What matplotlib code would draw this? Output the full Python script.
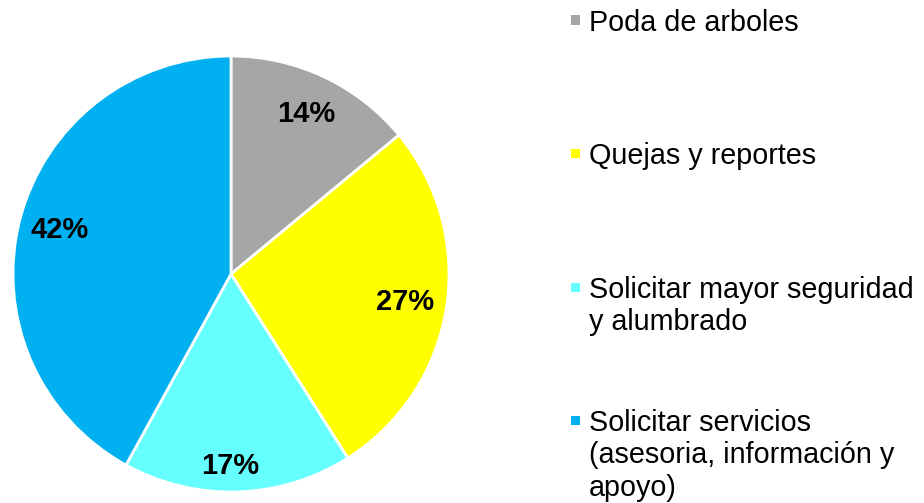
import numpy as np
import matplotlib
matplotlib.use("Agg")
import matplotlib.pyplot as plt
from matplotlib.patches import Rectangle

plt.rcParams['font.family'] = ['Liberation Sans', 'DejaVu Sans']

# data
categories = ['Poda de arboles', 'Quejas y reportes',
              'Solicitar mayor seguridad\ny alumbrado',
              'Solicitar servicios\n(asesoria, información y\napoyo)']
shares = [14, 27, 17, 42]
colors = ['#A6A6A6', '#FFFF00', '#66FFFF', '#00B0F0']

W, H = 924, 503
fig = plt.figure(figsize=(W / 100, H / 100), dpi=100)

# pie axes placed in pixel terms (centre ~ (231, 274), radius ~ 218)
cx, cy, r = 231, 274, 218
ax = fig.add_axes([(cx - r) / W, (H - cy - r) / H, 2 * r / W, 2 * r / H])
wedges, texts, autotexts = ax.pie(
    shares, colors=colors, startangle=90, counterclock=False,
    radius=1, autopct='%1.0f%%', pctdistance=0.81,
    wedgeprops=dict(edgecolor='white', linewidth=2),
    textprops=dict(fontsize=21, fontweight='bold', color='black'))
# the small bottom label sits a bit further out
x, y = autotexts[2].get_position()
autotexts[2].set_position((x * 1.09 - 0.03, y * 1.09))
ax.set_xlim(-1, 1)
ax.set_ylim(-1, 1)
ax.set_aspect('equal')
ax.axis('off')

# legend entries (first-line centre y in pixels)
entry_y = [20, 153, 287, 420]
for lab, col, yy in zip(categories, colors, entry_y):
    fig.add_artist(Rectangle(((571) / W, (H - yy - 4.5) / H), 9 / W, 9 / H,
                             transform=fig.transFigure, facecolor=col,
                             edgecolor='none'))
    fig.text(589 / W, (H - yy + 11) / H, lab, fontsize=20.7, va='top',
             ha='left', linespacing=1.2)

fig.savefig('out.png', dpi=100)
